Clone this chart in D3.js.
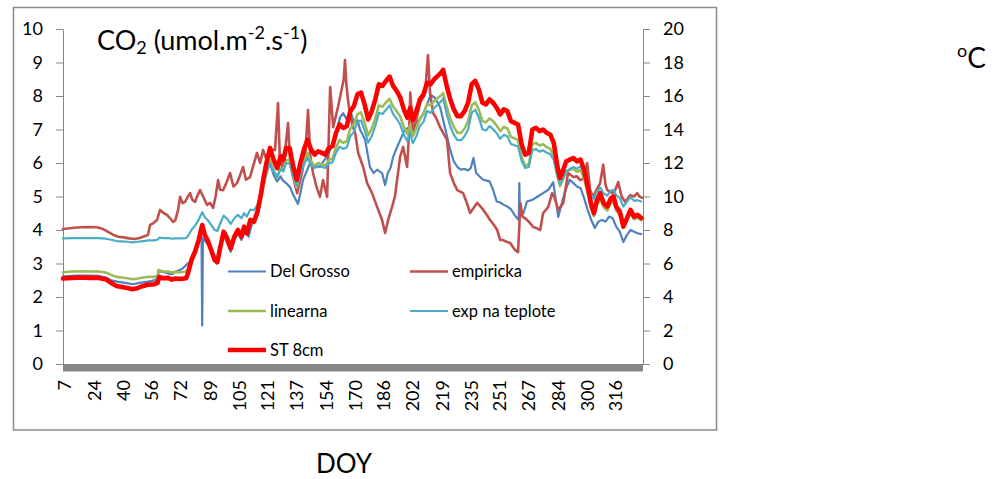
<!DOCTYPE html>
<html><head><meta charset="utf-8">
<script src="https://cdn.jsdelivr.net/npm/d3@7/dist/d3.min.js"></script>
<style>
body{margin:0;background:#fff}
svg{display:block}
text{font-family:Lato,"Open Sans",sans-serif;fill:#000}
</style>
</head><body>
<svg id="chart" width="995" height="479"></svg>
<script>
// ---------------- DATA ----------------
const xTickLabels = [7,24,40,56,72,89,105,121,137,154,170,186,202,219,235,251,267,284,300,316];
const leftTicks = [0,1,2,3,4,5,6,7,8,9,10];
const rightTicks = [0,2,4,6,8,10,12,14,16,18,20];
const seriesNames = ["Del Grosso","empiricka","linearna","exp na teplote","ST 8cm"];

// shared DOY grid for linearna, exp na teplote and ST 8cm
const gridDoy = [7,12,17,22,27,31,34,37,40,43,
46,49,52,55,58,60,61,63,66,68,
70,73,76,77,79,81,83,85,86.5,88,
90,92,93.5,95,97,99,101,103,105,107,
108.5,110,112,114,116,118,119.5,121,123,125,
127,129,130.5,132,134,136,138,140,142,144,
146,148,150,152,154,156,158,160,162,164,
166,168,170,172,174,176,178,180,182,184,
186,188,190,192,194,196,198,200,201.5,203,
205,207,209,211,213,215,217,219,220,222,
224,226,228,230,232,234,236,238,240,242,
244,246,248,250,252,254,256,258,260,262,
264,266,268,270,272,274,276,278,280,282,
284,285.5,287,289,291,293,295,297,299,301,
303,304.5,306,308,310,312,314,315.5,317,319,
321,323,325,327,329,331];

// ST 8cm soil temperature (°C, right axis)
const stTemp = [5.10,5.14,5.16,5.14,5.14,5.06,4.84,4.66,4.60,4.54,
4.46,4.54,4.66,4.74,4.76,4.84,5.20,5.12,5.14,5.04,
5.10,5.08,5.12,5.40,6.20,6.70,7.40,8.30,7.70,7.40,
6.80,6.20,6.08,6.90,7.90,7.50,6.90,7.60,8.00,7.60,
8.20,7.80,8.60,8.50,9.10,10.20,11.20,12.00,12.90,12.20,
11.70,12.40,12.20,12.90,12.90,11.80,11.00,12.00,12.80,13.40,
12.80,12.50,12.70,12.60,12.50,12.90,13.00,13.80,14.30,14.10,
14.20,15.10,15.40,16.10,16.20,15.50,14.60,15.10,15.80,16.70,
16.60,16.90,17.16,16.60,16.30,15.90,15.20,14.70,15.30,14.56,
15.10,15.80,16.10,16.80,16.70,17.00,17.20,17.40,17.56,16.60,
15.80,15.20,14.80,14.80,15.10,15.60,16.70,16.90,16.40,15.60,
15.50,15.80,15.60,15.30,14.90,15.20,15.10,14.50,14.40,14.30,
13.10,12.50,12.60,14.00,14.10,13.90,14.00,13.80,13.70,13.20,
11.80,11.10,11.50,12.10,12.20,12.30,12.10,12.20,11.60,10.60,
9.50,9.00,9.70,10.20,9.60,9.40,9.90,10.00,9.40,9.10,
8.20,8.70,9.20,8.80,8.90,8.72];

// linearna CO2 flux
const linearnaVal = [2.74,2.76,2.77,2.76,2.76,2.73,2.66,2.60,2.58,2.56,
2.53,2.55,2.58,2.60,2.60,2.62,2.80,2.76,2.76,2.73,
2.75,2.74,2.76,2.86,3.21,3.42,3.72,4.11,3.85,3.72,
3.46,3.21,3.15,3.51,3.94,3.77,3.51,3.81,3.98,3.81,
4.07,3.89,4.24,4.20,4.45,4.93,5.36,5.70,6.09,5.79,
5.57,5.87,5.79,6.09,6.09,5.61,5.27,5.70,6.04,6.30,
6.04,5.92,6.00,5.96,5.92,6.09,6.13,6.47,6.69,6.60,
6.65,7.03,7.16,7.46,7.51,7.21,6.82,7.03,7.33,7.72,
7.68,7.81,7.92,7.68,7.55,7.38,7.08,6.86,7.12,6.80,
7.03,7.33,7.46,7.76,7.72,7.85,7.94,8.02,8.09,7.68,
7.33,7.08,6.90,6.90,7.03,7.25,7.72,7.81,7.59,7.25,
7.21,7.33,7.25,7.12,6.95,7.08,7.03,6.78,6.73,6.69,
6.17,5.92,5.96,6.56,6.60,6.52,6.56,6.47,6.43,6.22,
5.61,5.31,5.49,5.74,5.79,5.83,5.74,5.79,5.53,5.10,
4.63,4.41,4.71,4.93,4.67,4.58,4.80,4.84,4.58,4.45,
4.07,4.28,4.50,4.32,4.37,4.29];

// exp na teplote CO2 flux
const expVal = [3.75,3.76,3.76,3.76,3.76,3.74,3.71,3.67,3.66,3.65,
3.63,3.65,3.67,3.69,3.69,3.71,3.77,3.76,3.76,3.74,
3.75,3.75,3.76,3.82,4.00,4.13,4.30,4.53,4.38,4.30,
4.15,4.00,3.97,4.18,4.43,4.33,4.18,4.35,4.45,4.35,
4.50,4.40,4.61,4.59,4.75,5.07,5.40,5.68,5.99,5.75,
5.58,5.82,5.75,5.99,5.99,5.61,5.33,5.68,5.95,6.16,
5.95,5.85,5.92,5.88,5.85,5.99,6.02,6.31,6.49,6.42,
6.46,6.80,6.93,7.23,7.27,6.97,6.61,6.80,7.10,7.50,
7.46,7.59,7.72,7.46,7.32,7.14,6.84,6.65,6.89,6.59,
6.80,7.10,7.23,7.55,7.50,7.64,7.74,7.85,7.93,7.46,
7.10,6.84,6.68,6.68,6.80,7.01,7.50,7.59,7.36,7.01,
6.97,7.10,7.01,6.89,6.72,6.84,6.80,6.57,6.53,6.49,
6.06,5.85,5.88,6.38,6.42,6.34,6.38,6.31,6.27,6.09,
5.61,5.37,5.53,5.76,5.82,5.88,5.83,5.90,5.72,5.40,
5.06,4.92,5.12,5.27,5.09,5.03,5.17,5.20,5.03,4.95,
4.70,4.84,4.98,4.87,4.89,4.85];

// Del Grosso CO2 flux
const delGrossoDoy = [7,15,22,27,31,34,38,42,46,50,
54,57,59.5,60.5,62,64,66,68,70,72,
74,76,78,80,82,84,84.6,85,85.4,87,
89,91,93,95,97,99,101,103,105,107,
109,111,113,115,117,119,121,123,125,127,
129,130,132,134.2,136,138.7,140,141.5,143.5,145.5,
148,151,153,155,156.7,158.5,160,162.3,164,166,
168,170,172,173.5,176.3,179,181,183,185.8,187.5,
189,190.5,192,194,196,198.5,201.5,205,207,209,
211,213,215.5,218.3,221,224,226,228,230,232,
234,235.5,237,238.5,240,242.5,246,248,250,252,
254,256,258,260,262.4,262.7,263,265,267,270,
273,276,279,281.7,284.5,287,289,291,293,295,
297,299,301,303,305,307,309,311,313,315,
317,319,321,323,325,327,329,331];
const delGrossoVal = [2.62,2.64,2.64,2.63,2.58,2.50,2.45,2.42,2.38,2.42,
2.45,2.48,2.52,2.80,2.75,2.74,2.70,2.68,2.75,2.80,
2.85,2.95,3.05,3.25,3.50,3.90,3.80,1.15,3.75,3.65,
3.50,3.25,3.00,3.40,3.85,3.60,3.35,3.70,3.90,3.70,
4.00,3.80,4.20,4.40,4.75,5.30,5.85,6.00,5.65,5.45,
5.60,5.49,5.40,5.28,5.05,4.78,5.10,5.49,5.75,6.00,
5.90,5.88,6.05,6.20,6.39,6.60,6.90,7.37,7.49,7.30,
7.58,7.20,7.28,6.99,6.69,5.88,5.70,5.80,5.70,5.34,
5.70,5.85,6.18,6.45,6.69,7.00,7.07,7.19,7.30,7.49,
7.75,8.03,7.94,7.67,7.07,6.39,6.05,5.88,5.80,5.82,
5.78,5.85,6.15,5.70,5.62,5.50,5.45,5.20,4.85,4.82,
4.75,4.70,4.62,4.45,4.30,5.40,4.55,4.50,4.85,4.90,
5.00,5.10,5.20,5.43,4.39,4.90,5.25,5.50,5.40,5.30,
5.25,4.95,4.60,4.30,4.06,4.25,4.30,4.25,4.40,4.35,
4.10,3.95,3.64,3.85,4.00,3.95,3.90,3.88];

// empiricka CO2 flux
const empirickaDoy = [7,12,17,22,26,29,32,35,38,41,
44,47,50,53,54.6,55.8,57.5,59.7,61.4,63.5,
65.3,67,68.7,70,71.5,72.6,74,75.4,77,78.2,
79.5,81,82.5,83.8,85.5,87.7,89.4,91.1,92.5,93.9,
95,96.7,98.5,100.6,102.5,104.5,106,107.9,109.5,111.8,
113.5,115.7,117.5,119.1,121,123,125.8,127.5,128.5,129.8,
131.5,133.1,134.3,135.4,138.2,140.9,142.8,144.3,145.6,147.1,
149,151,152.7,155,156.7,158.4,161.1,163.4,164.3,165,
165.7,166.7,168,169.5,170.7,172.4,175.2,177.4,180.2,183,
185.8,187.5,189.2,191.4,193,194.2,195.9,197.6,199.8,201,
201.6,203.2,205,207.1,209.9,211.5,212.7,214.4,216,218.3,
220,222.2,223.9,226,227.9,231.2,233,235.1,237,239.1,
241,242.5,244.5,246.3,248.5,250.3,252,253.6,255.5,257.6,
259,260.4,262,263.3,264.5,266,268,270.5,272.5,274.4,
276,278.9,281.1,282.5,284.5,287.3,290,292.9,295,296.8,
299,300.7,302.4,304,306,308,309.7,311,312,314.7,
316.5,318.1,320,322,324.8,327,328.8,330,331.6];
const empirickaVal = [4.03,4.06,4.08,4.09,4.08,4.04,3.95,3.86,3.80,3.78,
3.75,3.73,3.76,3.82,3.85,4.15,4.20,4.30,4.60,4.50,
4.45,4.35,4.24,4.30,4.60,4.99,4.80,4.84,5.00,5.10,
4.90,4.84,5.05,5.19,5.00,4.75,4.81,4.66,5.00,5.49,
5.20,5.19,5.40,5.70,5.30,5.40,5.60,5.88,5.50,5.58,
5.90,6.30,6.00,6.39,6.10,6.40,6.39,7.79,6.10,5.88,
6.40,7.19,6.00,5.70,5.10,5.70,6.30,7.58,6.20,5.70,
5.30,4.99,5.49,4.99,8.27,7.07,7.67,8.27,8.50,9.07,
8.40,7.88,7.40,7.07,6.90,6.30,5.88,5.40,5.10,4.69,
4.30,3.91,4.30,4.69,5.00,5.49,6.18,6.48,5.88,6.99,
8.10,6.90,7.30,7.79,8.09,9.22,8.09,7.49,7.35,7.07,
6.90,6.69,5.70,5.40,5.19,5.10,4.85,4.51,4.65,4.81,
4.70,4.60,4.45,4.30,4.15,4.00,3.70,3.70,3.65,3.61,
3.50,3.40,3.34,4.80,4.40,4.35,4.25,4.09,4.05,4.00,
4.50,4.69,5.10,4.95,4.60,4.80,5.70,5.58,5.60,5.49,
5.55,6.00,5.19,4.99,5.20,5.40,5.95,5.35,5.19,5.10,
5.20,5.43,5.00,4.84,5.04,5.00,5.10,5.00,4.96];

// ---------------- CHART ----------------
const svg = d3.select("#chart");
const x = d3.scaleLinear().domain([7, 332]).range([63, 643]);
const yL = d3.scaleLinear().domain([0, 10]).range([364, 29]);
const yR = d3.scaleLinear().domain([0, 20]).range([364, 29]);
const axisGray = "#868686";

svg.append("rect").attr("x", 13.5).attr("y", 7.5).attr("width", 703).attr("height", 422.5)
  .attr("fill", "#fff").attr("stroke", "#8a8a8a").attr("stroke-width", 1.5);

// left axis
const gL = svg.append("g").attr("transform", "translate(63,0)")
  .call(d3.axisLeft(yL).tickValues(leftTicks).tickSize(7).tickSizeOuter(0).tickPadding(13).tickFormat(d3.format("d")));
gL.select(".domain").attr("stroke", axisGray);
gL.selectAll(".tick line").attr("stroke", axisGray);
gL.selectAll(".tick text").attr("font-size", 18).attr("font-family", "Lato").attr("fill", "#000");

// right axis
const gR = svg.append("g").attr("transform", "translate(643,0)")
  .call(d3.axisRight(yR).tickValues(rightTicks).tickSize(7).tickSizeOuter(0).tickPadding(13).tickFormat(d3.format("d")));
gR.select(".domain").attr("stroke", axisGray);
gR.selectAll(".tick line").attr("stroke", axisGray);
gR.selectAll(".tick text").attr("font-size", 18).attr("font-family", "Lato").attr("fill", "#000");

// bottom band (thick gray category axis)
svg.append("rect").attr("x", x(7)).attr("y", yL(0)).attr("width", x(332) - x(7)).attr("height", 7.5)
  .attr("fill", "#878787");

// bottom labels
const gB = svg.append("g").attr("transform", "translate(0,364)")
  .call(d3.axisBottom(x).tickValues(xTickLabels).tickSize(0).tickFormat(d3.format("d")));
gB.select(".domain").remove();
gB.selectAll(".tick text")
  .attr("font-size", 18).attr("font-family", "Lato").attr("fill", "#000")
  .attr("text-anchor", "end").attr("transform", "rotate(-90)")
  .attr("x", -16).attr("y", 1).attr("dy", "0.35em");

// series
const seriesStyle = [
  {color: "#4F81BD", width: 2.2},
  {color: "#C0504D", width: 2.6},
  {color: "#9BBB59", width: 2.6},
  {color: "#4BACC6", width: 2.2},
  {color: "#FF0000", width: 4.6}
];
const lineL = d3.line().x(d => x(d[0])).y(d => yL(d[1]));
const lineR = d3.line().x(d => x(d[0])).y(d => yR(d[1]));
const plotData = [
  {pts: d3.zip(delGrossoDoy, delGrossoVal), line: lineL},
  {pts: d3.zip(empirickaDoy, empirickaVal), line: lineL},
  {pts: d3.zip(gridDoy, linearnaVal), line: lineL},
  {pts: d3.zip(gridDoy, expVal), line: lineL},
  {pts: d3.zip(gridDoy, stTemp), line: lineR}
];
plotData.forEach((s, i) => {
  svg.append("path").attr("d", s.line(s.pts)).attr("fill", "none")
    .attr("stroke", seriesStyle[i].color).attr("stroke-width", seriesStyle[i].width)
    .attr("stroke-linejoin", "round").attr("stroke-linecap", "round");
});

// legend
const legPos = [[228, 271.5], [410, 271.5], [228, 311], [410, 311], [228, 350]];
seriesNames.forEach((n, i) => {
  const [lx, ly] = legPos[i];
  svg.append("line").attr("x1", lx).attr("x2", lx + 38).attr("y1", ly).attr("y2", ly)
    .attr("stroke", seriesStyle[i].color).attr("stroke-width", i === 4 ? 4.6 : seriesStyle[i].width);
  svg.append("text").attr("x", lx + 42).attr("y", ly).attr("dy", "0.35em")
    .attr("font-size", 16.5).text(n);
});

// titles
const t = svg.append("text").attr("x", 97).attr("y", 50).attr("font-size", 27);
t.append("tspan").text("CO");
t.append("tspan").attr("font-size", 18).attr("dy", 4).text("2");
t.append("tspan").attr("dy", -4).text(" (umol.m");
t.append("tspan").attr("font-size", 18).attr("dy", -11).text("-2");
t.append("tspan").attr("dy", 11).text(".s");
t.append("tspan").attr("font-size", 18).attr("dy", -11).text("-1");
t.append("tspan").attr("dy", 11).text(")");

const u = svg.append("text").attr("x", 957).attr("y", 68).attr("font-size", 28);
u.append("tspan").attr("font-size", 18).attr("dy", -11).text("o");
u.append("tspan").attr("dy", 11).text("C");

svg.append("text").attr("x", 344).attr("y", 473).attr("text-anchor", "middle")
  .attr("font-size", 26).text("DOY");
</script>
</body></html>
